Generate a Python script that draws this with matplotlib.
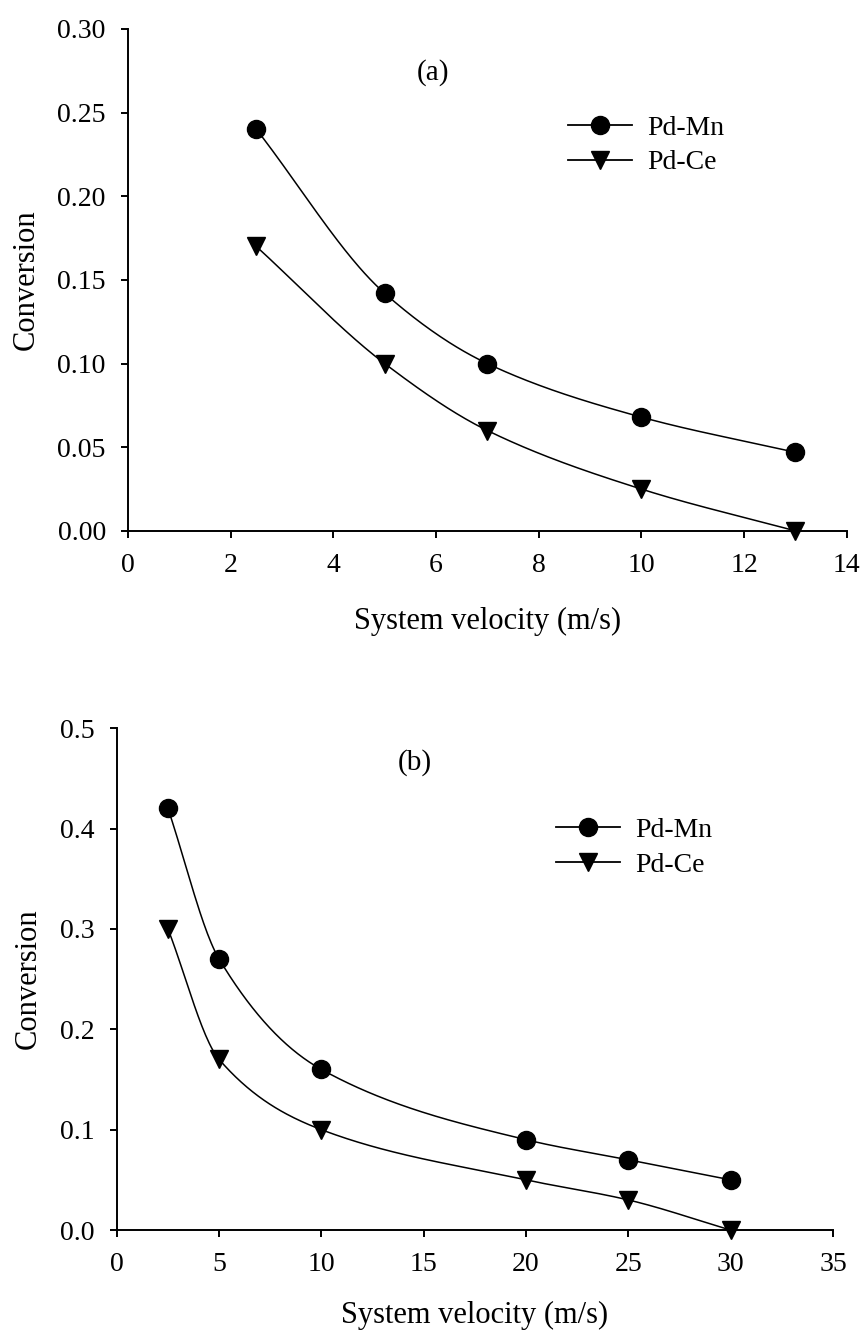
import numpy as np
import matplotlib
matplotlib.use("Agg")
import matplotlib.pyplot as plt

plt.rcParams['font.family'] = ['Liberation Serif', 'DejaVu Serif']

# panel (a)
vel_a = [2.5, 5, 7, 10, 13]
mn_a = [0.24, 0.142, 0.10, 0.068, 0.047]
ce_a = [0.17, 0.10, 0.06, 0.025, 0.0]

# panel (b)
vel_b = [2.5, 5, 10, 20, 25, 30]
mn_b = [0.42, 0.27, 0.16, 0.09, 0.07, 0.05]
ce_b = [0.30, 0.17, 0.10, 0.05, 0.03, 0.0]


def smooth(x, y, n=300):
    # monotone cubic (Fritsch-Carlson) through the points
    x = np.asarray(x, float)
    y = np.asarray(y, float)
    h = np.diff(x)
    d = np.diff(y) / h
    m = np.zeros_like(y)
    m[0], m[-1] = d[0], d[-1]
    for i in range(1, len(x) - 1):
        if d[i - 1] * d[i] <= 0:
            m[i] = 0
        else:
            w1 = 2 * h[i] + h[i - 1]
            w2 = h[i] + 2 * h[i - 1]
            m[i] = (w1 + w2) / (w1 / d[i - 1] + w2 / d[i])
    xs = np.linspace(x[0], x[-1], n)
    k = np.clip(np.searchsorted(x, xs) - 1, 0, len(x) - 2)
    t = (xs - x[k]) / h[k]
    h00 = 2 * t**3 - 3 * t**2 + 1
    h10 = t**3 - 2 * t**2 + t
    h01 = -2 * t**3 + 3 * t**2
    h11 = t**3 - t**2
    ys = h00 * y[k] + h10 * h[k] * m[k] + h01 * y[k + 1] + h11 * h[k] * m[k + 1]
    return xs, ys


def panel(ax, x, mn, ce, label, lab_pos, xlim, xticks, ylim, yticks, yfmt,
          leg_pos, ylab_x, xlab_y):
    for y in (mn, ce):
        xs, ys = smooth(x, y)
        ax.plot(xs, ys, color='black', lw=1.1, zorder=2, clip_on=False)
    ax.plot(x, mn, 'o', color='black', ms=13, zorder=3, clip_on=False)
    ax.plot(x, ce, 'v', color='black', ms=13, zorder=3, clip_on=False)
    l1, = ax.plot([], [], 'o-', color='black', ms=13, lw=1.3)
    l2, = ax.plot([], [], 'v-', color='black', ms=13, lw=1.3)
    ax.legend([l1, l2], ['Pd-Mn', 'Pd-Ce'], loc='center left', bbox_to_anchor=leg_pos,
              frameon=False, fontsize=20, numpoints=1, handlelength=2.3,
              handletextpad=0.55, labelspacing=0.33, borderpad=0, borderaxespad=0)
    ax.text(lab_pos[0], lab_pos[1], label, transform=ax.transAxes,
            ha='center', va='center', fontsize=21)
    ax.set_xlim(xlim)
    ax.set_ylim(ylim)
    ax.set_xticks(xticks)
    ax.set_yticks(yticks)
    ax.set_yticklabels([yfmt.format(v) for v in yticks])
    ax.spines['top'].set_visible(False)
    ax.spines['right'].set_visible(False)
    for s in ('left', 'bottom'):
        ax.spines[s].set_linewidth(1.4)
    ax.tick_params(direction='out', length=5, width=1.4, labelsize=20, pad=11)
    ax.set_xlabel('System velocity (m/s)', fontsize=22)
    ax.set_ylabel('Conversion', fontsize=22)
    ax.xaxis.set_label_coords(0.5, xlab_y)
    ax.yaxis.set_label_coords(ylab_x, 0.5)


fig = plt.figure(figsize=(8.65, 13.36), dpi=100)
ax1 = fig.add_axes([0.148, 0.6026, 0.831, 0.3757])
ax2 = fig.add_axes([0.135, 0.0793, 0.828, 0.3757])

panel(ax1, vel_a, mn_a, ce_a, '(a)', (0.424, 0.914), (0, 14), np.arange(0, 15, 2),
      (0, 0.30), np.arange(0, 0.31, 0.05), '{:.2f}', (0.612, 0.768), -0.121, -0.152)
panel(ax2, vel_b, mn_b, ce_b, '(b)', (0.416, 0.932), (0, 35), np.arange(0, 36, 5),
      (0, 0.5), np.arange(0, 0.51, 0.1), '{:.1f}', (0.613, 0.762), -0.104, -0.142)

fig.savefig('out.png', dpi=100)
